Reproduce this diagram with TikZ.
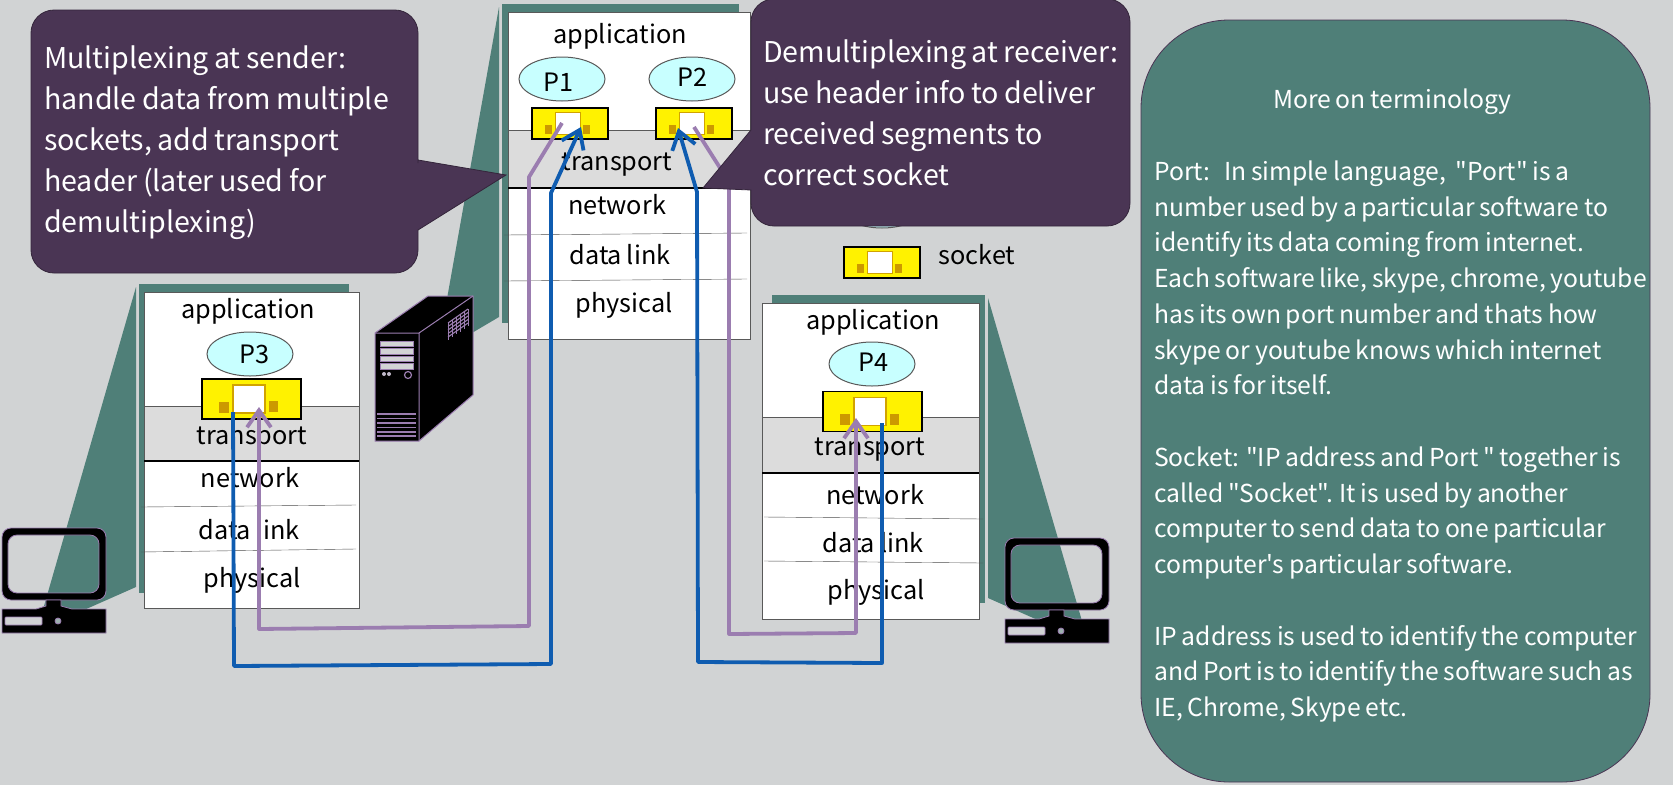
\documentclass[tikz,border=0pt]{standalone}
\usepackage{fontspec}
\setmainfont[Ligatures=TeXOff,WordSpace=0.85]{Noto Sans CJK SC}
\usetikzlibrary{arrows.meta,shapes.geometric}
\definecolor{bgrey}{HTML}{D1D3D4}
\definecolor{tealw}{HTML}{4F7F78}
\definecolor{plumb}{HTML}{4A3554}
\definecolor{wirep}{HTML}{9B7DB0}
\definecolor{wireb}{HTML}{0F5CB0}
\definecolor{bandg}{HTML}{DCDCDC}
\definecolor{procc}{HTML}{C8FFFF}
\definecolor{sockd}{HTML}{CC9900}
\tikzset{
  layerbox/.style={draw=black!65,fill=white,line width=1pt},
  layerlabel/.style={anchor=base,inner sep=0pt,font=\fontsize{25.3}{30}\selectfont},
  procnode/.style={ellipse,draw=black!65,fill=procc,line width=1pt,minimum width=86pt,minimum height=44pt,inner sep=0pt},
  sockout/.style={draw=black,fill=yellow,line width=1.3pt,minimum width=99pt,minimum height=40pt,inner sep=0pt},
  sockin/.style={draw=sockd!90!yellow,fill=white,line width=1.2pt,minimum width=32pt,minimum height=28pt,inner sep=0pt},
  sockdot/.style={fill=sockd,minimum width=10pt,minimum height=11pt,inner sep=0pt},
  callshape/.style={draw=plumb!70!black,fill=plumb,line width=0.8pt},
  calltext/.style={anchor=north west,inner sep=0pt,align=left,text=white,font=\fontsize{28.6}{41}\selectfont},
  wirepurple/.style={draw=wirep,line width=3.8pt,line join=round},
  wireblue/.style={draw=wireb,line width=3.8pt,line join=round},
  barbtip/.style={-{Straight Barb[length=17pt,width=24pt,line width=3.8pt]}},
  desktop/.pic={
    \draw[fill=black,draw=wirep,line width=0.8pt,even odd rule,rounded corners=9pt]
      (2,528) rectangle (106,600) (8,535) rectangle (99,593);
    \draw[fill=black,draw=wirep,line width=0.8pt] (46,600) -- (46,606) -- (36,609) -- (2,609) -- (2,633) -- (106,633) -- (106,609) -- (72,609) -- (61,606) -- (61,600) -- cycle;
    \draw[fill=bgrey,draw=wirep,line width=0.8pt,rounded corners=1pt] (5,617) rectangle (42,625);
    \draw[fill=bgrey!60!tealw,draw=wirep,line width=0.8pt] (58,621) circle (3);
  }
}
\newcommand{\sockbox}[4]{
  \begin{scope}[shift={(#2,#3)},scale=#4,transform shape]
    \node[sockout] (#1) at (0,0) {};
    \node[sockin] (#1in) at (-2.5,0) {};
    \node[sockdot] (#1dl) at (-28,8) {};
    \node[sockdot,minimum width=9pt] (#1dr) at (22,7.5) {};
  \end{scope}
}
\begin{document}
\begin{tikzpicture}[x=1pt,y=-1pt]
\useasboundingbox (0,0) rectangle (1673,785);
\fill[bgrey] (0,0) rectangle (1673,785);
% shadows behind the stacks
\fill[tealw] (139,284) rectangle (349,593);
\fill[tealw] (136,287) -- (136,587) -- (84,610) -- (44,606) -- cycle;
\fill[tealw] (502,4) rectangle (739,323);
\fill[tealw] (499,7) -- (499,317) -- (460,340) -- (445,310) -- cycle;
\fill[tealw] (772,295) rectangle (985,603);
\fill[tealw] (988,298) -- (988,598) -- (1040,621) -- (1082,621) -- cycle;
% stacks
\foreach \xa/\ya/\xb/\yb/\ga/\gb in {144/292/359/608/406/461, 508/12/750/339/130/188, 762/303/979/619/417/473}{
  \draw[layerbox] (\xa,\ya) rectangle (\xb,\yb);
  \draw[draw=black!65,fill=bandg,line width=1pt] (\xa,\ga) rectangle (\xb,\gb);
  \draw[line width=1.2pt] (\xa,\gb) -- (\xb,\gb);
}
\draw[black!70] (141,507) -- (356,505);
\draw[black!70] (141,552) -- (356,549);
\draw[black!70] (504,235) -- (747,233);
\draw[black!70] (504,281) -- (747,279);
\draw[black!70] (764,517) -- (983,519);
\draw[black!70] (764,561) -- (983,563);
% processes
\node[procnode] (pra) at (562,79) {};
\node[procnode] (prb) at (692,79) {};
\node[procnode] (prc) at (250,354) {};
\node[procnode] (prd) at (872,364) {};
\node[procnode] (prl) at (882,206) {};
% sockets
\sockbox{ska}{570}{123.5}{0.77}
\sockbox{skb}{694}{123.5}{0.77}
\sockbox{skc}{251.5}{399}{1}
\sockbox{skd}{872.5}{411.5}{1}
\sockbox{skl}{882}{262.5}{0.77}
% labels
\foreach \nm/\lab/\cx/\by in {
  lba/application/620/43, lbb/transport/617/170, lbc/network/617/214, lbd/data link/620/264, lbe/physical/624/312,
  lbf/application/248/318, lbg/transport/252/444, lbh/network/250/487, lbi/data link/249/539, lbj/physical/252/587,
  lbk/application/873/329, lbl/transport/870/455, lbm/network/875/504, lbn/data link/873/552, lbo/physical/876/599,
  lbp/P1/559/91, lbq/P2/693/86, lbr/P3/255/363, lbs/P4/874/371, lbt/socket/977/264}{
  \node[layerlabel] (\nm) at (\cx,\by) {\lab};
}
% computers
\pic at (0,0) {desktop};
\pic at (1003,10) {desktop};
\draw[fill=black,draw=wirep,line width=1pt] (375,333) -- (428,296) -- (473,296) -- (473,395) -- (419,441) -- (375,441) -- cycle;
\draw[wirep,line width=1pt] (375,333) -- (419,333) -- (473,296) (419,333) -- (419,441);
\foreach \yy in {341,348.5,356,363.5}{
  \fill[bgrey,draw=wirep,line width=0.6pt] (380,\yy) rectangle (413,\yy+5.5);
}
\fill[bgrey!70!wirep] (384,374) circle (2) (389,374) circle (2);
\draw[wirep,line width=1.2pt] (408,375) circle (3.5);
\foreach \yy in {414,418.5,423,427.5,432,436}{
  \draw[wirep,line width=1.6pt] (377,\yy) -- (416,\yy);
}
\foreach \dd in {0,3.5,7,10.5,14}{
  \draw[wirep,line width=1.1pt] (448,323+\dd) -- (468,309+\dd);
}
\foreach \dd in {0,4,8,12,16,20}{
  \draw[wirep,line width=1pt] (448+\dd,323-\dd*0.7) -- (448+\dd,340-\dd*0.7);
}
% wires
\coordinate (bla) at (233,412);
\coordinate (blb) at (234,666);
\coordinate (blc) at (551,664);
\coordinate (bld) at (551,193);
\coordinate (ble) at (581,127);
\coordinate (pua) at (562,123);
\coordinate (pub) at (529,177);
\coordinate (puc) at (529,626);
\coordinate (pud) at (259,629);
\coordinate (pue) at (259,407);
\coordinate (brf) at (882,423);
\coordinate (brg) at (882,663);
\coordinate (brh) at (698,662);
\coordinate (bri) at (697,192);
\coordinate (brj) at (678,128);
\coordinate (puf) at (694,127);
\coordinate (pug) at (729,182);
\coordinate (puh) at (729,634);
\coordinate (pui) at (856,633);
\coordinate (puj) at (856,418);
\draw[wireblue,barbtip] (bla) -- (blb) -- (blc) -- (bld) -- (ble);
\draw[wirepurple,barbtip] (pua) -- (pub) -- (puc) -- (pud) -- (pue);
\draw[wireblue,barbtip] (brf) -- (brg) -- (brh) -- (bri) -- (brj);
\draw[wirepurple,barbtip] (puf) -- (pug) -- (puh) -- (pui) -- (puj);
% callouts
\draw[callshape,rounded corners=23pt] (31,140) -- (31,10) -- (418,10) -- (418,140) [sharp corners] -- (418,160) -- (506,175) -- (418,230) [rounded corners=23pt] -- (418,273) -- (31,273) -- cycle;
\node[calltext] (mux) at (44,46) {Multiplexing at sender:\\handle data from multiple\\sockets, add transport\\header (later used for\\demultiplexing)};
\draw[callshape,rounded corners=23pt] (751,100) -- (751,-1) -- (1130,-1) -- (1130,226) -- (751,226) [sharp corners] -- (751,190) -- (703,188) -- (751,130) [rounded corners=23pt] -- cycle;
\node[calltext] (demux) at (763,40) {Demultiplexing at receiver:\\use header info to deliver\\received segments to\\correct socket};
% terminology panel
\draw[draw=plumb,fill=tealw,line width=0.8pt,rounded corners=88pt] (1141,20) rectangle (1650,782);
\node[anchor=north west,inner sep=0pt,align=left,text=white,font=\fontsize{24.7}{35.75}\selectfont] (terms) at (1154,89) {\hspace*{119pt}More on terminology\\ \\
Port:\ \ \ In simple language,\ \ "Port" is a\\
number used by a particular software to\\
identify its data coming from internet.\\
Each software like, skype, chrome, youtube\\
has its own port number and thats how\\
skype or youtube knows which internet\\
data is for itself.\\ \\
Socket: "IP address and Port " together is\\
called "Socket". It is used by another\\
computer to send data to one particular\\
computer's particular software.\\ \\
IP address is used to identify the computer\\
and Port is to identify the software such as\\
IE, Chrome, Skype etc.};
\end{tikzpicture}
\end{document}
